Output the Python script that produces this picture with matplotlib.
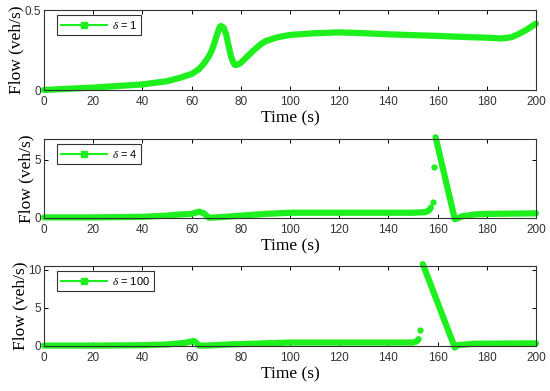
import matplotlib
matplotlib.use("Agg")
import matplotlib.pyplot as plt
from matplotlib.lines import Line2D

plt.rcParams['font.family'] = ['Liberation Sans', 'DejaVu Sans']
plt.rcParams['mathtext.fontset'] = 'custom'
plt.rcParams['mathtext.it'] = 'Liberation Serif:italic'
plt.rcParams['mathtext.rm'] = 'Liberation Sans'

GREEN = '#1ef01e'

# delta = 1
t1 = [0, 10, 20, 30, 40, 50, 55, 60, 63, 65, 67, 68, 69, 70, 71, 71.5, 72, 73, 74, 75,
      76, 77, 77.7, 79, 80, 82, 85, 88, 90, 95, 100, 110, 120, 130, 140, 150, 160, 170,
      180, 186, 190, 193, 196, 198, 200]
f1 = [0.0, 0.008, 0.015, 0.025, 0.035, 0.055, 0.075, 0.1, 0.13, 0.165, 0.21, 0.24, 0.28,
      0.33, 0.375, 0.395, 0.4, 0.39, 0.35, 0.28, 0.21, 0.17, 0.156, 0.16, 0.17, 0.2, 0.245,
      0.285, 0.305, 0.33, 0.344, 0.355, 0.36, 0.355, 0.348, 0.343, 0.338, 0.332, 0.327,
      0.322, 0.33, 0.35, 0.375, 0.395, 0.415]

# delta = 4
t2 = [0, 20, 40, 50, 55, 60, 63, 65, 67, 70, 75, 80, 90, 100, 120, 140, 150, 155, 156.5,
      157.3]
f2 = [0.05, 0.05, 0.1, 0.2, 0.3, 0.35, 0.55, 0.4, 0.02, 0.05, 0.12, 0.2, 0.35, 0.45, 0.45,
      0.45, 0.45, 0.5, 0.65, 0.9]
t2_jump = [158.0, 158.5]
f2_jump = [1.4, 4.4]
t2_drop = [159.2, 167.0, 168, 170, 175, 180, 200]
f2_drop = [6.95, -0.1, -0.05, 0.15, 0.3, 0.35, 0.4]

# delta = 100
t3 = [0, 20, 40, 50, 57, 60, 61, 62, 63, 66, 75, 90, 100, 120, 140, 150, 151.5, 152.3]
f3 = [0.05, 0.05, 0.1, 0.2, 0.4, 0.6, 0.65, 0.4, 0.05, 0.05, 0.2, 0.35, 0.45, 0.45, 0.45,
      0.45, 0.6, 0.9]
t3_jump = [152.9]
f3_jump = [2.1]
t3_drop = [154.0, 167.0, 168, 175, 200]
f3_drop = [10.75, -0.2, 0.1, 0.3, 0.35]

xticks = [0, 20, 40, 60, 80, 100, 120, 140, 160, 180, 200]

fig = plt.figure(figsize=(5.5, 3.91), dpi=100)
boxes = [[0.08, 0.7698, 0.8945, 0.2046],
         [0.08, 0.4425, 0.8945, 0.2020],
         [0.08, 0.1151, 0.8945, 0.2046]]

panels = [
    (t1, f1, [], [], [], [], (0, 0.5), [0, 0.5], ['0', '0.5'], r'$\delta$ = 1'),
    (t2, f2, t2_jump, f2_jump, t2_drop, f2_drop, (0, 6.8), [0, 5], ['0', '5'], r'$\delta$ = 4'),
    (t3, f3, t3_jump, f3_jump, t3_drop, f3_drop, (0, 10.5), [0, 5, 10], ['0', '5', '10'], r'$\delta$ = 100'),
]

for box, (t, f, tj, fj, td, fd, ylim, yt, ytl, lab) in zip(boxes, panels):
    ax = fig.add_axes(box)
    ax.plot(t, f, color=GREEN, lw=4.5, solid_capstyle='round', solid_joinstyle='round', clip_on=False)
    if tj:
        ax.plot(tj, fj, 'o', color=GREEN, ms=4.5, mec='none', clip_on=False)
        ax.plot(td, fd, color=GREEN, lw=4.5, solid_capstyle='round', solid_joinstyle='round', clip_on=False)
    ax.set_xlim(0, 200)
    ax.set_ylim(*ylim)
    ax.set_xticks(xticks)
    ax.set_yticks(yt)
    ax.set_yticklabels(ytl)
    ax.tick_params(direction='in', top=True, right=True, length=3, width=0.7,
                   labelsize=8.5, labelcolor='#333333')
    ax.tick_params(axis='x', pad=4)
    ax.tick_params(axis='y', pad=2)
    for s in ax.spines.values():
        s.set_linewidth(0.8)
        s.set_color('#333333')
    ax.set_xlabel('Time (s)', family='Liberation Serif', fontsize=12.5, labelpad=2)
    ax.set_ylabel('Flow (veh/s)', family='Liberation Serif', fontsize=12.5, labelpad=0)
    handle = Line2D([], [], color=GREEN, lw=1.5, marker='s', ms=4)
    leg = ax.legend([handle], [lab], loc='upper left', bbox_to_anchor=(0.026, 0.94),
                    borderaxespad=0, fontsize=8, handlelength=4.2, fancybox=False,
                    framealpha=1, edgecolor='#333333', borderpad=0.35, handletextpad=0.4)
    leg.get_frame().set_linewidth(0.8)

fig.savefig('out.png', dpi=100)
